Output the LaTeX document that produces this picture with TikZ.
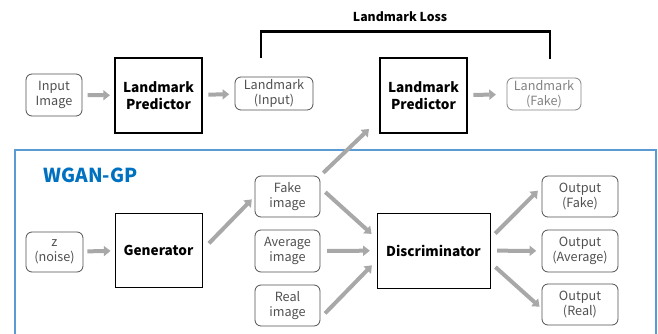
\documentclass[tikz,border=0pt]{standalone}
\usepackage{fontspec}
\setmainfont{Noto Sans CJK JP}
\usetikzlibrary{arrows.meta,calc}
\definecolor{flowgray}{RGB}{168,168,168}
\definecolor{boxgray}{RGB}{80,80,80}
\definecolor{fadegray}{RGB}{130,130,130}
\definecolor{frameblue}{RGB}{91,155,213}
\definecolor{titleblue}{RGB}{0,112,192}
\tikzset{
  databox/.style={draw=boxgray, text=boxgray, rounded corners=4.5pt, line width=0.6pt,
    align=center, inner sep=0pt, font=\fontsize{9.5}{11}\selectfont},
  netbox/.style={draw=black, line width=0.7pt, align=center, inner sep=0pt,
    font=\fontsize{10.2}{12.5}\selectfont\bfseries},
  lmbox/.style={netbox, line width=1.5pt, minimum width=65.25pt, minimum height=56.25pt},
  flow/.style={flowgray, line width=3pt, -{Triangle[length=5pt,width=7.5pt]}},
  lossline/.style={black, line width=2.2pt},
}

\begin{document}
\begin{tikzpicture}[x=0.75pt,y=-0.75pt]
  \useasboundingbox (0,0) rectangle (658,334);

  % landmark branch
  \node[databox, minimum width=42pt, minimum height=31.5pt] (inimg) at (54,95) {Input\\Image};
  \node[lmbox] (lp1) at (158.5,95.5) {Landmark\\Predictor};
  \node[databox, minimum width=58.5pt, minimum height=24.75pt] (lmin) at (274,93.5) {Landmark\\(Input)};
  \node[lmbox] (lp2) at (423.5,95.5) {Landmark\\Predictor};
  \node[databox, draw=fadegray, text=fadegray, minimum width=55.5pt, minimum height=24pt] (lmfake) at (544,94) {Landmark\\(Fake)};
  \node[font=\fontsize{9.2}{11}\selectfont\bfseries] (loss) at (400,17) {Landmark Loss};
  \draw[lossline] ($(lmin.north)+(-13,-19)$) -- ++(0,-26) -| ($(lmfake.north)+(6,-19)$);

  % WGAN-GP
  \draw[frameblue, line width=2.2pt] (15,334) -- (15,150) -- (656,150) -- (656,334);
  \node[titleblue, anchor=west, font=\fontsize{14.4}{17}\selectfont\bfseries] (wgan) at (39,175) {WGAN-GP};

  \node[databox, minimum width=42.75pt, minimum height=30pt] (noise) at (54.5,252) {z\\(noise)};
  \node[netbox, minimum width=65.25pt, minimum height=55.5pt] (gen) at (158.5,250) {Generator};
  \node[databox, minimum width=48.75pt, minimum height=30.75pt] (fake) at (287.5,196.5) {Fake\\image};
  \node[databox, minimum width=48.75pt, minimum height=31.5pt] (avg) at (287.5,251) {Average\\image};
  \node[databox, minimum width=48.75pt, minimum height=30.75pt] (real) at (287.5,305.5) {Real\\image};
  \node[netbox, minimum width=84.75pt, minimum height=56.25pt] (disc) at (433.5,250.5) {Discriminator};
  \node[databox, minimum width=57pt, minimum height=30.75pt] (ofake) at (580,196.5) {Output\\(Fake)};
  \node[databox, minimum width=57pt, minimum height=31.5pt] (oavg) at (580,251) {Output\\(Average)};
  \node[databox, minimum width=57pt, minimum height=30.75pt] (oreal) at (580,304.5) {Output\\(Real)};
  \coordinate (lmtip) at (369,129);

  % arrows
  \draw[flow, shorten <=4pt, shorten >=3pt] (inimg) -- (lp1);
  \draw[flow, shorten <=4pt, shorten >=4pt] (lp1) -- (lmin);
  \draw[flow, shorten <=4pt, shorten >=8pt] (lp2) -- (lmfake);
  \draw[flow, shorten <=3pt, shorten >=3pt] (noise) -- (gen);
  \draw[flow, shorten <=7pt, shorten >=3pt] (gen.east) -- (fake.west);
  \draw[flow, shorten <=3pt] (fake.north east) -- (lmtip);
  \draw[flow, shorten <=5pt, shorten >=5pt] (fake.15) -- (disc.168);
  \draw[flow, shorten <=5pt, shorten >=5pt] (avg) -- (disc);
  \draw[flow, shorten <=5pt, shorten >=5pt] (real.339) -- (disc.190);
  \draw[flow, shorten <=5pt, shorten >=4pt] (disc.12) -- (ofake.166);
  \draw[flow, shorten <=5pt, shorten >=4pt] (disc) -- (oavg);
  \draw[flow, shorten <=5pt, shorten >=2pt] (disc.348) -- (oreal.186);
\end{tikzpicture}
\end{document}
